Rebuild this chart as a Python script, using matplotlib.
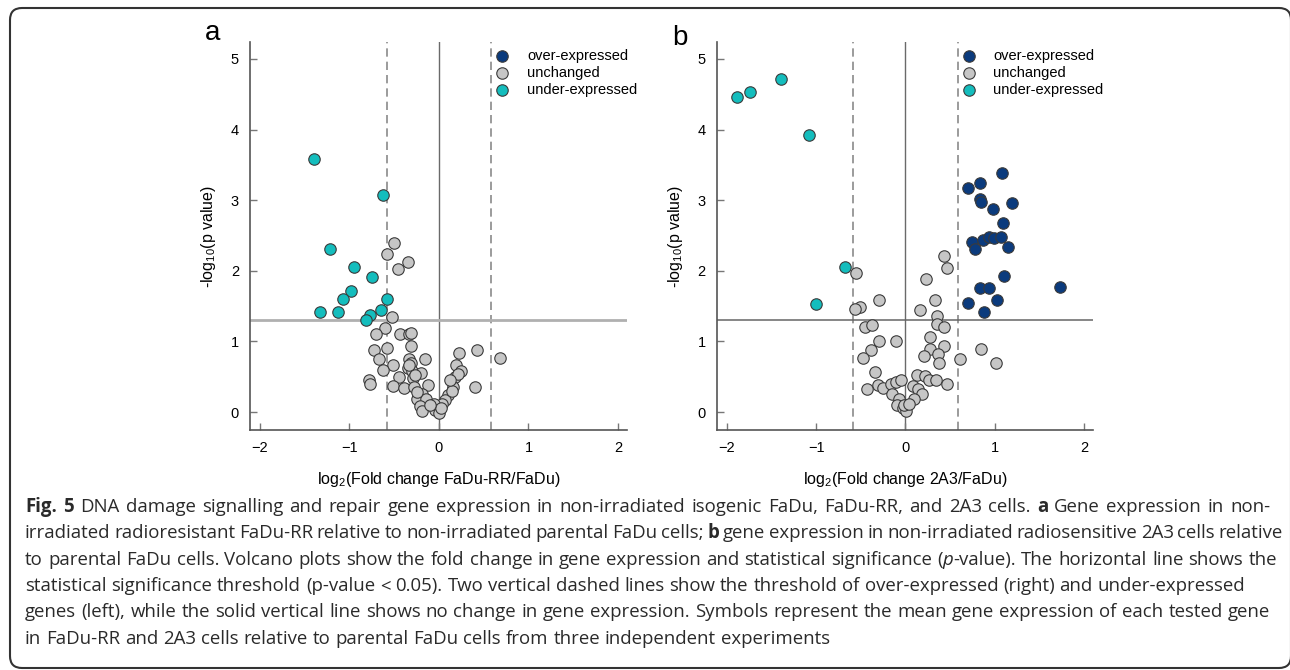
import matplotlib
matplotlib.use('Agg')
import matplotlib.pyplot as plt
from matplotlib.patches import FancyBboxPatch

plt.rcParams['font.family'] = ['Liberation Sans', 'DejaVu Sans']
plt.rcParams['mathtext.fontset'] = 'custom'
plt.rcParams['mathtext.rm'] = 'Liberation Sans'
plt.rcParams['mathtext.it'] = 'Liberation Sans:italic'

# ---- data: panel a (FaDu-RR / FaDu) ----
a_under_x = [-1.40, -0.63, -1.22, -0.95, -0.75, -0.98, -1.07, -0.58, -1.33, -1.13, -0.65, -0.77, -0.82]
a_under_y = [3.59, 3.08, 2.31, 2.05, 1.91, 1.71, 1.60, 1.60, 1.41, 1.42, 1.45, 1.37, 1.30]
a_unch_x = [-0.50, -0.58, -0.34, -0.46,
            -0.52, -0.60, -0.70, -0.44, -0.33, -0.31,
            0.22, 0.43, 0.68,
            -0.73, -0.58, -0.31,
            -0.16, -0.67, -0.33, -0.31,
            0.19, -0.51, -0.62, -0.35, -0.30, -0.33,
            -0.20, 0.25, 0.18, 0.21,
            -0.78, -0.77, -0.45, -0.29, -0.27,
            -0.12, -0.51, -0.39, -0.28, 0.16, 0.40,
            -0.19, -0.25, -0.14, 0.10, 0.07, 0.03, -0.06,
            -0.21, -0.19, -0.04, 0.00, 0.02, 0.15,
            -0.25, 0.12, -0.10]
a_unch_y = [2.40, 2.24, 2.12, 2.02,
            1.34, 1.19, 1.11, 1.10, 1.11, 1.12,
            0.83, 0.88, 0.76,
            0.88, 0.90, 0.93,
            0.75, 0.75, 0.75, 0.70,
            0.67, 0.67, 0.60, 0.63, 0.58, 0.66,
            0.55, 0.58, 0.50, 0.54,
            0.45, 0.40, 0.49, 0.48, 0.52,
            0.38, 0.37, 0.34, 0.35, 0.35, 0.36,
            0.26, 0.19, 0.18, 0.24, 0.17, 0.12, 0.11,
            0.08, 0.02, 0.03, -0.01, 0.06, 0.30,
            0.29, 0.45, 0.10]
a_over_x = []
a_over_y = []

# ---- data: panel b (2A3 / FaDu) ----
b_under_x = [-1.89, -1.74, -1.39, -1.08, -0.68, -1.00]
b_under_y = [4.46, 4.53, 4.72, 3.92, 2.05, 1.53]
b_over_x = [1.08, 0.70, 0.83, 0.84, 0.85, 1.19, 0.98, 1.09, 0.74, 0.87, 0.94, 0.99, 1.07,
            0.78, 1.15, 1.10, 0.83, 0.93, 1.73, 0.70, 1.02, 0.88]
b_over_y = [3.39, 3.17, 3.24, 3.02, 2.98, 2.96, 2.88, 2.68, 2.41, 2.44, 2.48, 2.47, 2.48,
            2.31, 2.33, 1.93, 1.75, 1.75, 1.77, 1.55, 1.58, 1.41]
b_unch_x = [0.43, 0.46, -0.55, 0.23, -0.30, 0.33, -0.51, -0.56, 0.16,
            0.35, -0.45, -0.38, 0.35, 0.43,
            -0.30, -0.11, 0.28, 0.43, -0.39, 0.27, 0.36, 0.85,
            -0.48, 0.21, 0.38, 0.61, 1.01,
            -0.34, 0.13, 0.22, 0.26, 0.34, 0.46,
            -0.31, -0.25, -0.16, -0.11, -0.05, -0.43, 0.09, 0.14,
            -0.15, 0.19, -0.07, -0.10, 0.10, -0.03, 0.01, -0.02, 0.04]
b_unch_y = [2.21, 2.04, 1.97, 1.89, 1.59, 1.59, 1.48, 1.46, 1.44,
            1.36, 1.21, 1.23, 1.24, 1.20,
            1.00, 1.00, 1.06, 0.93, 0.88, 0.89, 0.82, 0.89,
            0.76, 0.79, 0.70, 0.75, 0.70,
            0.57, 0.52, 0.51, 0.45, 0.45, 0.40,
            0.38, 0.34, 0.40, 0.42, 0.45, 0.33, 0.37, 0.32,
            0.25, 0.26, 0.19, 0.10, 0.19, 0.05, 0.02, 0.10, 0.12]

labels = ['over-expressed', 'unchanged', 'under-expressed']
colors = ['#0b3b7d', '#c6c6c6', '#14bdbd']
x_ticks = [-2, -1, 0, 1, 2]
y_ticks = [0, 1, 2, 3, 4, 5]
fc_cut = 0.585
p_cut = 1.301

fig = plt.figure(figsize=(12.9, 6.7), dpi=100)
ax_a = fig.add_axes([0.1938, 0.3582, 0.2922, 0.5791])
ax_b = fig.add_axes([0.5558, 0.3582, 0.2915, 0.5791])

panels = [
    (ax_a, [(a_over_x, a_over_y), (a_unch_x, a_unch_y), (a_under_x, a_under_y)],
     'log$_2$(Fold change FaDu-RR/FaDu)', '#b0b0b0', 2.0),
    (ax_b, [(b_over_x, b_over_y), (b_unch_x, b_unch_y), (b_under_x, b_under_y)],
     'log$_2$(Fold change 2A3/FaDu)', '#666666', 1.1),
]

for ax, groups, xlab, hcol, hlw in panels:
    ax.axvline(0, color='#6a6a6a', lw=1.0, zorder=1)
    ax.axvline(-fc_cut, color='#8a8a8a', lw=1.2, ls=(0, (5, 3)), zorder=1)
    ax.axvline(fc_cut, color='#8a8a8a', lw=1.2, ls=(0, (5, 3)), zorder=1)
    ax.axhline(p_cut, color=hcol, lw=hlw, zorder=1)
    handles = []
    for (xs, ys), lab, col in zip(groups, labels, colors):
        h = ax.scatter(xs, ys, s=68, c=col, edgecolors='#3a3a3a', linewidths=0.8,
                       label=lab, zorder=3)
        handles.append(h)
    ax.set_xlim(-2.11, 2.10)
    ax.set_ylim(-0.255, 5.24)
    ax.set_xticks(x_ticks)
    ax.set_yticks(y_ticks)
    ax.tick_params(direction='in', length=5, width=1, color='#777777',
                   labelsize=10.5, pad=8)
    for side in ['top', 'right']:
        ax.spines[side].set_visible(False)
    for side in ['left', 'bottom']:
        ax.spines[side].set_color('#555555')
        ax.spines[side].set_linewidth(1.2)
    ax.set_xlabel(xlab, fontsize=11.5, labelpad=11)
    ax.set_ylabel('-log$_{10}$(p value)', fontsize=11.5, labelpad=9)
    ax.legend(handles=handles, loc='upper left', bbox_to_anchor=(0.65, 0.982),
              frameon=False, fontsize=10.5, handlelength=1.0, handletextpad=1.2,
              labelspacing=0.2, borderpad=0, borderaxespad=0)

fig.text(213 / 1290, 1 - 33 / 670, 'a', fontsize=20, ha='center', va='center')
fig.text(680 / 1290, 1 - 38 / 670, 'b', fontsize=20, ha='center', va='center')

# ---- caption ----
cap_lines = [
    [('Fig. 5', 'bold', 'normal'),
     (' DNA damage signalling and repair gene expression in non-irradiated isogenic FaDu, FaDu-RR, and 2A3 cells. ', 'normal', 'normal'),
     ('a', 'bold', 'normal'),
     (' Gene expression in non-', 'normal', 'normal')],
    [('irradiated radioresistant FaDu-RR relative to non-irradiated parental FaDu cells; ', 'normal', 'normal'),
     ('b', 'bold', 'normal'),
     (' gene expression in non-irradiated radiosensitive 2A3 cells relative', 'normal', 'normal')],
    [('to parental FaDu cells. Volcano plots show the fold change in gene expression and statistical significance (', 'normal', 'normal'),
     ('p', 'normal', 'italic'),
     ('-value). The horizontal line shows the', 'normal', 'normal')],
    [('statistical significance threshold (p-value < 0.05). Two vertical dashed lines show the threshold of over-expressed (right) and under-expressed', 'normal', 'normal')],
    [('genes (left), while the solid vertical line shows no change in gene expression. Symbols represent the mean gene expression of each tested gene', 'normal', 'normal')],
    [('in FaDu-RR and 2A3 cells relative to parental FaDu cells from three independent experiments', 'normal', 'normal')],
]
# right edge of each caption line in the reference (None = ragged)
cap_ends = [1270, 1283, 1277, None, 1270, None]
cap_font = ['Open Sans', 'DejaVu Sans']
cap_size = 13.4
cap_x0 = 25
cap_y0 = 507
cap_step = 26.3

renderer = fig.canvas.get_renderer()


def text_w(s, weight='normal', style='normal'):
    t = fig.text(0, 0, s, fontsize=cap_size, family=cap_font, weight=weight, style=style)
    w = t.get_window_extent(renderer).width
    t.remove()
    return w


space_w = text_w('x x') - text_w('xx')

for i, parts in enumerate(cap_lines):
    items = []
    for txt, weight, style in parts:
        pieces = txt.split(' ')
        for k, p in enumerate(pieces):
            if k > 0:
                items.append(('sp', None, None))
            if p:
                items.append((p, weight, style))
    widths = [0 if it[0] == 'sp' else text_w(*it) for it in items]
    n_sp = sum(1 for it in items if it[0] == 'sp')
    natural = sum(widths) + n_sp * space_w
    extra = 0
    if cap_ends[i] is not None and n_sp:
        extra = (cap_ends[i] - cap_x0 - natural) / n_sp
    x = cap_x0
    y = 670 - (cap_y0 + i * cap_step)
    for it, w in zip(items, widths):
        if it[0] == 'sp':
            x += space_w + extra
            continue
        fig.text(x / 1290, y / 670, it[0], fontsize=cap_size, family=cap_font,
                 weight=it[1], style=it[2], va='center', ha='left', color='#2a2a2a')
        x += w

# ---- rounded frame ----
frame = FancyBboxPatch((10, 2), 1281, 660, boxstyle='round,pad=0,rounding_size=12',
                       transform=None, fill=False, edgecolor='#333333', lw=1.5)
fig.add_artist(frame)

plt.savefig('out.png', dpi=100)
